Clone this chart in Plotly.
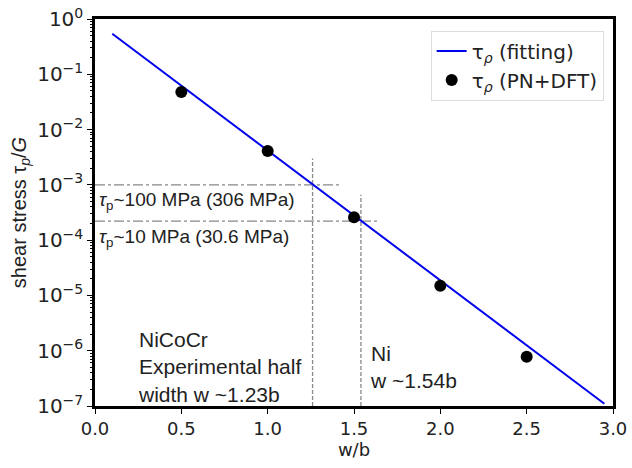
import plotly.graph_objects as go

# data
fit_w = [0.1, 2.95]
fit_tau = [0.54, 1.1e-7]
dft_w = [0.5, 1.0, 1.5, 2.0, 2.5]
dft_tau = [0.048, 0.0041, 2.6e-4, 1.5e-5, 7.8e-7]

h1_w = [0.0, 1.42]; h1_tau = [1e-3, 1e-3]
h2_w = [0.0, 1.64]; h2_tau = [2.2e-4, 2.2e-4]
v1_w = [1.26, 1.26]; v1_tau = [1e-7, 3e-3]
v2_w = [1.54, 1.54]; v2_tau = [1e-7, 6.6e-4]

x_ticks = [0.0, 0.5, 1.0, 1.5, 2.0, 2.5, 3.0]
x_ticklabels = ["0.0", "0.5", "1.0", "1.5", "2.0", "2.5", "3.0"]
y_exps = [0, -1, -2, -3, -4, -5, -6, -7]

fig = go.Figure()
gray = "#888888"
for xs, ys, dash in [(h1_w, h1_tau, "10px,3px,3px,3px"), (h2_w, h2_tau, "10px,3px,3px,3px"),
                     (v1_w, v1_tau, "4px,2px"), (v2_w, v2_tau, "4px,2px")]:
    fig.add_trace(go.Scatter(x=xs, y=ys, mode="lines", showlegend=False,
                             line=dict(color=gray, width=1.3, dash=dash), hoverinfo="skip"))

fig.add_trace(go.Scatter(x=fit_w, y=fit_tau, mode="lines",
                         name="τ<sub><i>ρ</i></sub> (fitting)",
                         line=dict(color="#0000ee", width=2)))
fig.add_trace(go.Scatter(x=dft_w, y=dft_tau, mode="markers",
                         name="τ<sub><i>ρ</i></sub> (PN+DFT)",
                         marker=dict(color="black", size=12)))

tau_font = dict(family="Liberation Sans, Arial", size=19, color="#222222")
ann_font = dict(family="Liberation Sans, Arial", size=21, color="#222222")
fig.add_annotation(x=0.01, y=-3.03, xref="x", yref="y", text="<i>τ</i><sub>p</sub>~100 MPa (306 MPa)",
                   showarrow=False, xanchor="left", yanchor="top", font=tau_font)
fig.add_annotation(x=0.01, y=-3.70, xref="x", yref="y", text="<i>τ</i><sub>p</sub>~10 MPa (30.6 MPa)",
                   showarrow=False, xanchor="left", yanchor="top", font=tau_font)
fig.add_annotation(x=0.24, y=-5.55, xref="x", yref="y",
                   text="NiCoCr<br>Experimental half<br>width w ~1.23b",
                   showarrow=False, xanchor="left", yanchor="top", align="left", font=ann_font)
fig.add_annotation(x=1.58, y=-5.8, xref="x", yref="y",
                   text="Ni<br>w ~1.54b",
                   showarrow=False, xanchor="left", yanchor="top", align="left", font=ann_font)

minor_vals = [m * 10.0 ** e for e in range(-7, 0) for m in range(2, 10)]

fig.update_xaxes(range=[0, 3], tickvals=x_ticks, ticktext=x_ticklabels, automargin=False,
                 ticklabeloverflow="allow",
                 showgrid=False, zeroline=False, showline=True, linecolor="black", linewidth=2.5,
                 mirror=True, ticks="outside", ticklen=5, tickcolor="black",
                 tickfont=dict(family="DejaVu Sans", size=18, color="#222222"),
                 title=dict(text="w/b", font=dict(family="DejaVu Sans", size=18, color="#222222"), standoff=2))
fig.update_yaxes(type="log", range=[-7, 0], automargin=False, ticklabeloverflow="allow",
                 tickvals=[10.0 ** e for e in y_exps],
                 ticktext=["10<sup>%s</sup>" % (str(e).replace("-", "−")) for e in y_exps],
                 showgrid=False, zeroline=False, showline=True, linecolor="black", linewidth=2.5,
                 mirror=True, ticks="outside", ticklen=5, tickcolor="black",
                 minor=dict(tickvals=minor_vals, ticks="outside", ticklen=2.5, tickcolor="black", showgrid=False),
                 tickfont=dict(family="DejaVu Sans", size=20, color="#222222"),
                 title=dict(text="shear stress τ<sub><i>p</i></sub>/<i>G</i>",
                            font=dict(family="Liberation Sans, Arial", size=20, color="#222222"), standoff=6))

fig.update_layout(width=632, height=468, margin=dict(l=95, r=19, t=19, b=62),
                  plot_bgcolor="white", paper_bgcolor="white",
                  legend=dict(x=0.982, y=0.97, xanchor="right", yanchor="top",
                              bordercolor="#dddddd", borderwidth=1, bgcolor="white",
                              font=dict(family="DejaVu Sans", size=20, color="#222222")))

fig.write_html("out.html", config={"displayModeBar": False},
               post_script="document.body.style.margin='0px';")
